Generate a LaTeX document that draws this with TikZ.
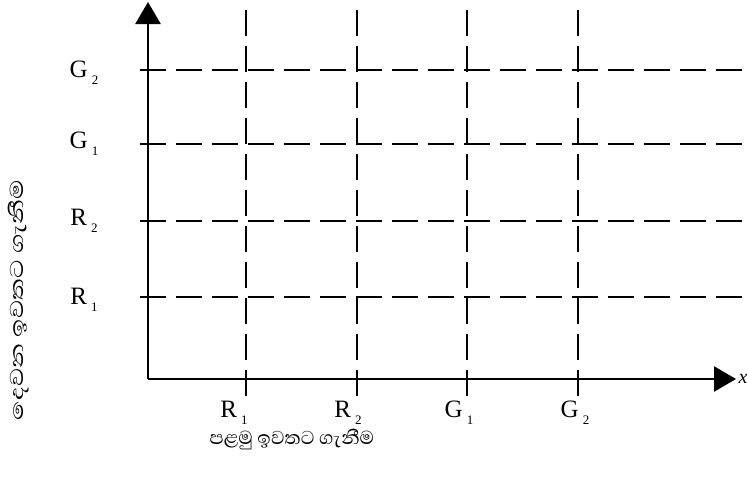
\documentclass[tikz,border=0pt]{standalone}
\usepackage{fontspec}
\setmainfont{Liberation Serif}
\newfontfamily\sinhfont[Script=Sinhala]{Abhaya Libre}
\usetikzlibrary{arrows.meta}
\newcommand{\lab}[2]{#1\,\raisebox{-7pt}{\fontsize{13}{13}\selectfont #2}}
\tikzset{
  axisline/.style={line width=2.6pt,-{Triangle[length=22pt,width=25pt]}},
  gridline/.style={line width=2pt,dash pattern=on 26pt off 10pt},
  labtext/.style={font=\fontsize{25}{25}\selectfont,inner sep=0pt},
  sintext/.style={font=\sinhfont\fontsize{24}{24}\selectfont,inner sep=0pt}
}
\begin{document}
\begin{tikzpicture}[x=1pt,y=-1pt]
\useasboundingbox (0,0) rectangle (747,482);
\coordinate (O) at (148,379);
\coordinate (ytip) at (148,2);
\coordinate (xtip) at (736,379);
% vertical dashed lines
\foreach \xx/\nm in {246/a,357/b,467/c,578/d}{
  \coordinate (vt\nm) at (\xx,10);
  \coordinate (vb\nm) at (\xx,396);
  \draw[gridline] (vt\nm) -- (vb\nm);
}
% horizontal dashed lines
\foreach \yy/\nm in {70/a,144/b,221/c,297/d}{
  \coordinate (hl\nm) at (140,\yy);
  \coordinate (hr\nm) at (742,\yy);
  \draw[gridline] (hl\nm) -- (hr\nm);
}
\draw[axisline] (O) -- (ytip);
\draw[axisline] (O) -- (xtip);
\node[labtext,font=\fontsize{20}{20}\selectfont\itshape] (xl) at (743,379) {x};
% left labels
\node[labtext] (lg2) at (84,73) {\lab{G}{2}};
\node[labtext] (lg1) at (84,144) {\lab{G}{1}};
\node[labtext] (lr2) at (84,221) {\lab{R}{2}};
\node[labtext] (lr1) at (84,300) {\lab{R}{1}};
% bottom labels
\node[labtext] (br1) at (234,413) {\lab{R}{1}};
\node[labtext] (br2) at (348,413) {\lab{R}{2}};
\node[labtext] (bg1) at (459,413) {\lab{G}{1}};
\node[labtext] (bg2) at (575,413) {\lab{G}{2}};
% Sinhala texts
\node[sintext] (xt) at (292,440) {පළමු ඉවතට ගැනීම};
\node[sintext,rotate=90,xscale=1.35] (yt) at (19,300) {දෙවන ඉවතට ගැනීම};
\end{tikzpicture}
\end{document}
